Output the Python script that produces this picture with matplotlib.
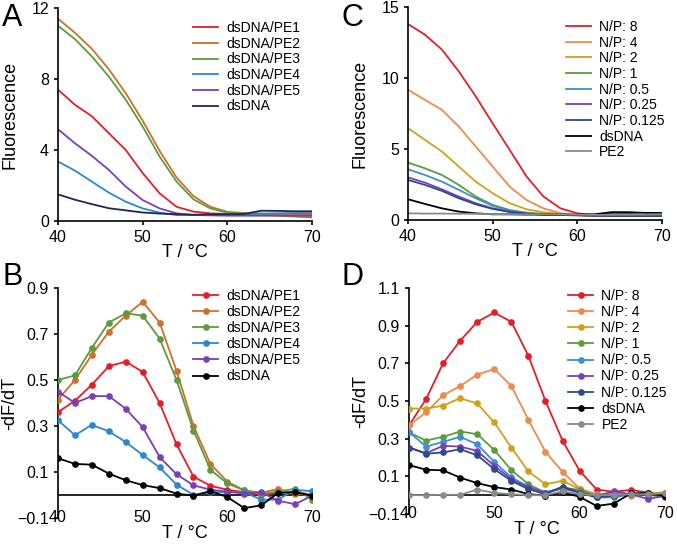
import matplotlib
matplotlib.use("Agg")
import matplotlib.pyplot as plt
import numpy as np

plt.rcParams["font.family"] = ["Liberation Sans", "DejaVu Sans"]

# temperature grid, 2 degC steps
temp = np.arange(40, 72, 2)

# Panel A: fluorescence vs T for the PE series
fluor_a = {
    "dsDNA/PE1": [7.4, 6.55, 5.9, 4.95, 4.0, 2.7, 1.56, 0.8, 0.53, 0.43, 0.4, 0.4, 0.4, 0.4, 0.4, 0.4],
    "dsDNA/PE2": [11.4, 10.6, 9.7, 8.55, 7.2, 5.65, 3.95, 2.45, 1.4, 0.8, 0.52, 0.45, 0.42, 0.35, 0.32, 0.3],
    "dsDNA/PE3": [11.0, 10.25, 9.27, 8.14, 6.83, 5.32, 3.63, 2.22, 1.22, 0.71, 0.47, 0.43, 0.35, 0.3, 0.25, 0.2],
    "dsDNA/PE4": [3.35, 2.84, 2.22, 1.6, 1.09, 0.71, 0.47, 0.34, 0.35, 0.35, 0.38, 0.4, 0.42, 0.44, 0.45, 0.45],
    "dsDNA/PE5": [5.17, 4.38, 3.67, 2.88, 1.94, 1.18, 0.71, 0.43, 0.34, 0.32, 0.3, 0.3, 0.3, 0.3, 0.3, 0.3],
    "dsDNA": [1.5, 1.2, 0.95, 0.72, 0.6, 0.48, 0.42, 0.38, 0.35, 0.38, 0.38, 0.4, 0.58, 0.57, 0.55, 0.55],
}
colors_a = ["#e41e26", "#cf6f2a", "#5e9a3f", "#2b88d0", "#7a3fb5", "#1f2757"]

# Panel B: -dF/dT for the PE series
deriv_b = {
    "dsDNA/PE1": [0.36, 0.41, 0.48, 0.56, 0.58, 0.535, 0.40, 0.22, 0.08, 0.04, 0.023, 0.012, 0.0, 0.01, 0.015, 0.0],
    "dsDNA/PE2": [0.415, 0.50, 0.61, 0.71, 0.78, 0.84, 0.75, 0.54, 0.30, 0.135, 0.058, 0.02, 0.01, 0.026, 0.005, 0.0],
    "dsDNA/PE3": [0.50, 0.52, 0.64, 0.75, 0.79, 0.78, 0.68, 0.50, 0.28, 0.11, 0.05, 0.02, 0.005, 0.015, 0.027, -0.02],
    "dsDNA/PE4": [0.325, 0.26, 0.305, 0.277, 0.23, 0.174, 0.12, 0.045, 0.0, 0.012, 0.012, 0.012, -0.02, -0.02, 0.023, 0.016],
    "dsDNA/PE5": [0.45, 0.40, 0.43, 0.43, 0.375, 0.295, 0.165, 0.09, 0.042, 0.023, 0.015, 0.006, 0.012, -0.025, -0.04, -0.003],
    "dsDNA": [0.16, 0.135, 0.132, 0.093, 0.064, 0.043, 0.03, 0.006, -0.003, 0.017, -0.009, -0.057, -0.045, 0.009, 0.012, -0.003],
}
colors_b = ["#e41e26", "#cf6f2a", "#5e9a3f", "#2b88d0", "#7a3fb5", "#000000"]

# Panel C: fluorescence vs T for N/P ratios
fluor_c = {
    "N/P: 8": [13.8, 13.05, 12.0, 10.46, 8.7, 6.8, 4.94, 3.06, 1.65, 0.82, 0.47, 0.35, 0.45, 0.45, 0.35, 0.28],
    "N/P: 4": [9.17, 8.46, 7.76, 6.58, 5.17, 3.76, 2.35, 1.4, 0.82, 0.47, 0.35, 0.3, 0.3, 0.3, 0.3, 0.3],
    "N/P: 2": [6.47, 5.64, 4.82, 3.76, 2.7, 1.88, 1.18, 0.75, 0.54, 0.42, 0.35, 0.3, 0.3, 0.3, 0.3, 0.3],
    "N/P: 1": [4.04, 3.64, 3.17, 2.47, 1.65, 1.06, 0.7, 0.52, 0.42, 0.38, 0.35, 0.32, 0.3, 0.3, 0.3, 0.3],
    "N/P: 0.5": [3.57, 3.17, 2.7, 2.12, 1.53, 0.99, 0.66, 0.47, 0.4, 0.36, 0.35, 0.32, 0.3, 0.3, 0.3, 0.3],
    "N/P: 0.25": [3.0, 2.63, 2.16, 1.65, 1.18, 0.82, 0.59, 0.45, 0.38, 0.35, 0.33, 0.3, 0.28, 0.28, 0.28, 0.28],
    "N/P: 0.125": [2.82, 2.47, 2.05, 1.53, 1.1, 0.78, 0.56, 0.44, 0.38, 0.35, 0.33, 0.3, 0.28, 0.28, 0.28, 0.28],
    "dsDNA": [1.46, 1.13, 0.82, 0.59, 0.47, 0.4, 0.4, 0.38, 0.38, 0.38, 0.38, 0.4, 0.55, 0.55, 0.5, 0.5],
    "PE2": [0.47, 0.45, 0.45, 0.44, 0.43, 0.42, 0.4, 0.4, 0.4, 0.38, 0.37, 0.36, 0.36, 0.37, 0.38, 0.4],
}
colors_c = ["#e41e26", "#ee8a4f", "#d1a01a", "#5e9b3a", "#3d8fd8", "#7b3fb8", "#2c4a8a", "#000000", "#8a8a8a"]

# Panel D: -dF/dT for N/P ratios
deriv_d = {
    "N/P: 8": [0.37, 0.51, 0.70, 0.82, 0.92, 0.97, 0.92, 0.74, 0.50, 0.29, 0.13, 0.03, 0.018, 0.028, 0.014, -0.012],
    "N/P: 4": [0.37, 0.44, 0.53, 0.58, 0.64, 0.67, 0.58, 0.40, 0.23, 0.124, 0.035, 0.005, 0.01, -0.004, 0.01, 0.014],
    "N/P: 2": [0.46, 0.46, 0.475, 0.515, 0.487, 0.386, 0.253, 0.126, 0.058, 0.076, 0.032, -0.012, -0.004, 0.005, 0.01, 0.014],
    "N/P: 1": [0.333, 0.29, 0.31, 0.338, 0.324, 0.24, 0.133, 0.058, 0.014, 0.04, 0.028, -0.004, 0.005, 0.005, 0.005, 0.005],
    "N/P: 0.5": [0.336, 0.258, 0.283, 0.31, 0.27, 0.177, 0.094, 0.046, 0.014, 0.04, 0.014, -0.012, -0.012, 0.005, 0.005, 0.005],
    "N/P: 0.25": [0.253, 0.223, 0.262, 0.258, 0.235, 0.156, 0.085, 0.041, 0.014, 0.035, 0.014, -0.004, 0.02, 0.005, -0.02, -0.004],
    "N/P: 0.125": [0.253, 0.22, 0.227, 0.244, 0.212, 0.138, 0.076, 0.032, 0.005, 0.046, 0.014, -0.012, -0.004, 0.005, 0.0, -0.004],
    "dsDNA": [0.16, 0.135, 0.132, 0.093, 0.064, 0.043, 0.03, 0.006, -0.003, 0.017, -0.009, -0.057, -0.045, 0.009, 0.012, -0.003],
    "PE2": [0.0, 0.0, 0.002, 0.002, 0.03, 0.012, 0.005, 0.0, 0.0, 0.02, 0.005, 0.0, 0.0, 0.005, 0.005, 0.01],
}
colors_d = colors_c

fig = plt.figure(figsize=(6.77, 5.46), dpi=100)

ax_a = fig.add_axes([0.0857, 0.5952, 0.3752, 0.3901])
ax_c = fig.add_axes([0.6027, 0.5971, 0.3752, 0.3901])
ax_b = fig.add_axes([0.0857, 0.0513, 0.3752, 0.4212])
ax_d = fig.add_axes([0.6041, 0.0586, 0.3780, 0.4139])


def style_axes(ax):
    for side in ["top", "right"]:
        ax.spines[side].set_visible(False)
    ax.spines["left"].set_linewidth(1.2)
    ax.spines["bottom"].set_linewidth(1.2)
    ax.tick_params(direction="out", length=3, width=1.2, labelsize=11.5)
    ax.set_xlim(40, 70)
    ax.set_xticks([40, 50, 60, 70])


# fluorescence panels
for ax, data, cols, ymax, yticks, lx in [(ax_a, fluor_a, colors_a, 12, [0, 4, 8, 12], 0.51),
                                         (ax_c, fluor_c, colors_c, 15, [0, 5, 10, 15], 0.6)]:
    for (name, vals), c in zip(data.items(), cols):
        ax.plot(temp, vals, color=c, lw=1.3, label=name)
    style_axes(ax)
    ax.set_ylim(0, ymax)
    ax.set_yticks(yticks)
    ax.set_ylabel("Fluorescence", fontsize=13)
    ax.yaxis.set_label_coords(-0.155, 0.5)
    ax.set_xlabel("T / °C", fontsize=13)
    ax.xaxis.set_label_coords(0.5, -0.11)
    ax.legend(loc="upper left", bbox_to_anchor=(lx, 0.965), frameon=False, fontsize=10,
              handlelength=1.8, handletextpad=0.6, labelspacing=0.12, borderaxespad=0)

# derivative panels
for ax, data, cols, ymax, lx in [(ax_b, deriv_b, colors_b, 0.9, 0.51), (ax_d, deriv_d, colors_d, 1.1, 0.6)]:
    ax.axhline(0, color="black", lw=1.2, zorder=1)
    for (name, vals), c in zip(data.items(), cols):
        ax.plot(temp, vals, color=c, lw=1.3, marker="o", ms=3.8, label=name, zorder=3)
    style_axes(ax)
    ax.spines["bottom"].set_visible(False)
    ax.tick_params(axis="x", length=0, pad=-6)
    ax.set_ylim(-0.1, ymax)
    ax.set_yticks(np.round(np.arange(-0.1, ymax + 0.01, 0.2), 1))
    ax.set_ylabel("-dF/dT", fontsize=13)
    ax.yaxis.set_label_coords(-0.155, 0.5)
    ax.set_xlabel("T / °C", fontsize=13)
    ax.xaxis.set_label_coords(0.5, -0.03)
    ax.legend(loc="upper left", bbox_to_anchor=(lx, 1.02), frameon=False, fontsize=10,
              handlelength=1.8, handletextpad=0.6, labelspacing=0.15, borderaxespad=0)

# panel letters
for x, y, letter in [(0.003, 0.995, "A"), (0.003, 0.52, "B"), (0.505, 0.995, "C"), (0.505, 0.52, "D")]:
    fig.text(x, y, letter, fontsize=22, va="top", ha="left")

fig.savefig("out.png", dpi=100)
